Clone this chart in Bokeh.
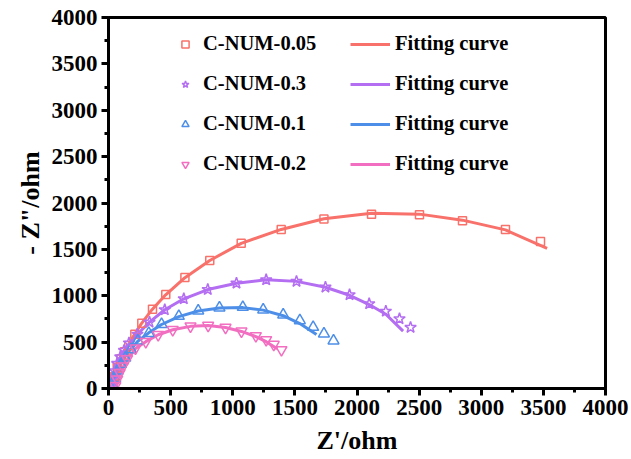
from bokeh.plotting import figure
from bokeh.models import Range1d, SingleIntervalTicker, Legend, LegendItem
from bokeh.embed import file_html
from bokeh.resources import INLINE

# ---- data ----
red_x = [35, 50, 70, 100, 130, 163, 212, 268, 354, 461, 615, 815, 1068, 1390, 1734, 2117, 2503, 2849, 3195, 3477]
red_y = [40, 130, 230, 320, 395, 464, 585, 704, 855, 1013, 1197, 1380, 1567, 1714, 1827, 1879, 1873, 1808, 1714, 1585]
red_fx = [30, 45, 70, 100, 160, 210, 265, 350, 460, 615, 815, 1068, 1390, 1734, 2117, 2503, 2849, 3195, 3530]
red_fy = [0, 120, 250, 350, 470, 585, 700, 850, 1010, 1195, 1380, 1565, 1715, 1830, 1890, 1880, 1815, 1710, 1510]

pur_x = [25, 35, 50, 70, 95, 125, 165, 233, 330, 453, 606, 799, 1030, 1269, 1513, 1746, 1940, 2098, 2232, 2342, 2431]
pur_y = [30, 110, 190, 270, 340, 410, 490, 585, 715, 849, 967, 1067, 1135, 1172, 1154, 1092, 1010, 913, 833, 751, 658]
pur_fx = [22, 40, 70, 120, 233, 330, 453, 606, 799, 1030, 1269, 1513, 1746, 1940, 2098, 2232, 2371]
pur_fy = [0, 150, 280, 400, 585, 715, 849, 967, 1067, 1135, 1172, 1155, 1092, 1005, 905, 800, 618]

blu_x = [40, 55, 75, 100, 135, 180, 236, 324, 427, 566, 722, 893, 1081, 1245, 1406, 1540, 1647, 1734, 1811]
blu_y = [30, 110, 190, 260, 330, 420, 514, 596, 693, 780, 838, 870, 877, 849, 795, 733, 661, 590, 515]
blu_fx = [35, 55, 90, 150, 236, 324, 427, 566, 722, 893, 1081, 1245, 1406, 1540, 1674]
blu_fy = [0, 120, 240, 380, 510, 600, 690, 775, 835, 868, 872, 845, 785, 700, 582]

pnk_x = [55, 70, 90, 115, 150, 217, 300, 400, 517, 660, 802, 942, 1070, 1186, 1269, 1330, 1392]
pnk_y = [30, 100, 170, 240, 320, 435, 504, 579, 633, 672, 679, 658, 618, 568, 525, 474, 417]
pnk_fx = [50, 70, 100, 150, 217, 300, 400, 517, 660, 802, 942, 1070, 1186, 1269, 1358]
pnk_fy = [0, 90, 190, 310, 430, 505, 580, 633, 670, 678, 658, 615, 560, 505, 428]

names = ["C-NUM-0.05", "C-NUM-0.3", "C-NUM-0.1", "C-NUM-0.2"]
fit_label = "Fitting curve"

RED, PUR, BLU, PNK = "#F8716A", "#B46EF2", "#4D8FE8", "#F26EC0"
FONT = "Liberation Serif"

p = figure(width=631, height=459, output_backend="svg", toolbar_location=None,
           x_range=Range1d(0, 4000), y_range=Range1d(0, 4000),
           min_border_left=108, min_border_right=26, min_border_top=17, min_border_bottom=71)
p.grid.visible = False
p.outline_line_color = "black"
p.outline_line_width = 3
p.background_fill_color = "white"
p.border_fill_color = "white"

for ax in (p.xaxis[0], p.yaxis[0]):
    ax.ticker = SingleIntervalTicker(interval=500, num_minor_ticks=2)
    ax.axis_line_width = 3
    ax.major_tick_line_width = 3
    ax.minor_tick_line_width = 3
    ax.major_tick_out = 7
    ax.major_tick_in = 0
    ax.minor_tick_out = 4
    ax.minor_tick_in = 0
    ax.major_label_text_font = FONT
    ax.major_label_text_font_style = "bold"
    ax.major_label_text_font_size = "23px"
    ax.major_label_text_color = "black"
    ax.axis_label_text_font = FONT
    ax.axis_label_text_font_style = "bold"
    ax.axis_label_text_font_size = "26px"
    ax.axis_label_text_color = "black"

p.xaxis.axis_label = "Z'/ohm"
p.yaxis.axis_label = '- Z"/ohm'
p.xaxis.major_label_standoff = 4
p.yaxis.major_label_standoff = 4
p.xaxis.axis_label_standoff = 8
p.yaxis.axis_label_standoff = 4

# fitting curves
l1 = p.line(red_fx, red_fy, line_color=RED, line_width=3)
l2 = p.line(pur_fx, pur_fy, line_color=PUR, line_width=3)
l3 = p.line(blu_fx, blu_fy, line_color=BLU, line_width=3)
l4 = p.line(pnk_fx, pnk_fy, line_color=PNK, line_width=3)

# data markers
s1 = p.scatter(red_x, red_y, marker="square", size=8, fill_color=None, line_color=RED, line_width=1.5)
s2 = p.scatter(pur_x, pur_y, marker="star", size=12, fill_color=None, line_color=PUR, line_width=1.5)
s3 = p.scatter(blu_x, blu_y, marker="triangle", size=11, fill_color=None, line_color=BLU, line_width=1.5)
s4 = p.scatter(pnk_x, pnk_y, marker="inverted_triangle", size=11, fill_color=None, line_color=PNK, line_width=1.5)

def mk_legend(items, x, y, gw, standoff):
    lg = Legend(items=items, location=(x, y), orientation="vertical",
                glyph_width=gw, glyph_height=18, label_height=20, spacing=17,
                label_standoff=standoff, padding=0, margin=0,
                border_line_color=None, background_fill_alpha=0,
                label_text_font=FONT, label_text_font_style="bold",
                label_text_font_size="20.5px", label_text_color="black")
    return lg

leg1 = mk_legend([LegendItem(label=n, renderers=[r]) for n, r in zip(names, [s1, s2, s3, s4])],
                 67, 213, 20, 8)
leg2 = mk_legend([LegendItem(label=fit_label, renderers=[r]) for r in [l1, l2, l3, l4]],
                 242, 213, 40, 5)
p.add_layout(leg1, "center")
p.add_layout(leg2, "center")

open("out.html", "w").write(file_html(p, INLINE))
